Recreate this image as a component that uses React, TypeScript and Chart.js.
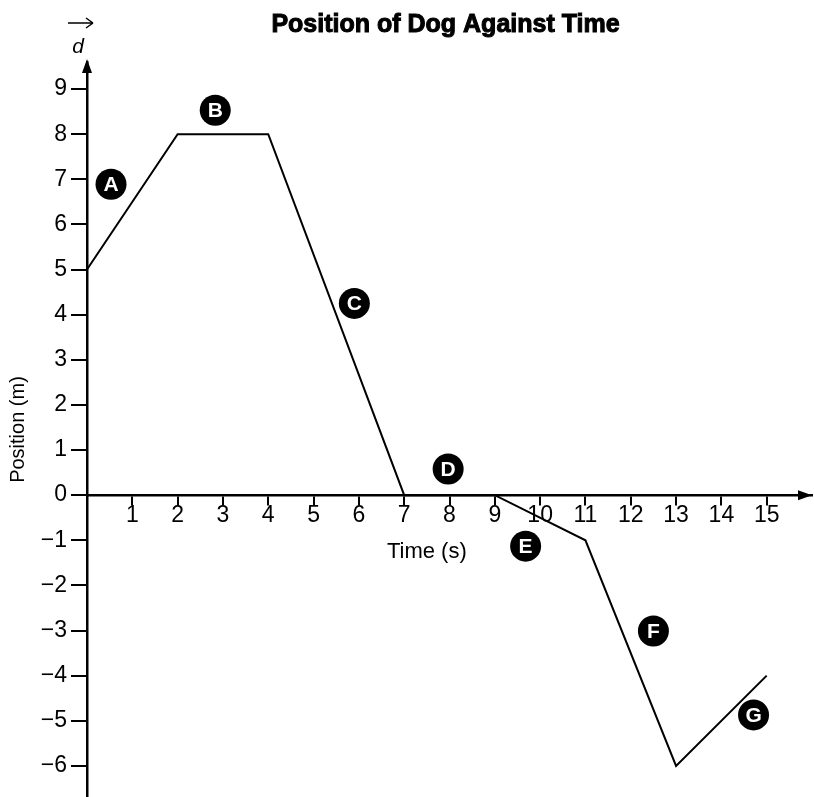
import React, { useEffect, useRef } from 'react';
import { Chart, registerables } from 'chart.js';

Chart.register(...registerables);

// ---- data ----
const timeSeconds = [0, 2, 4, 7, 9, 11, 13, 15];
const positionMetres = [5, 8, 8, 0, 0, -1, -6, -4];

const segmentLetters = ['A', 'B', 'C', 'D', 'E', 'F', 'G'];
const letterTimes = [0.53, 2.83, 5.9, 7.97, 9.68, 12.5, 14.71];
const letterPositions = [6.89, 8.53, 4.25, 0.58, -1.13, -3.01, -4.87];

const timeTicks = [1, 2, 3, 4, 5, 6, 7, 8, 9, 10, 11, 12, 13, 14, 15];
const positionTicks = [-6, -5, -4, -3, -2, -1, 0, 1, 2, 3, 4, 5, 6, 7, 8, 9];

const titleText = 'Position of Dog Against Time';
const xTitle = 'Time (s)';
const yTitle = 'Position (m)';
const vectorSymbol = 'd';

const xRange = [0, 16];
const yRange = [-6.69, 9.6];
const xTitleAt = [7.5, -1.26];

const FONT = '"Liberation Sans", Arial, sans-serif';
const NARROW = '"Liberation Sans Narrow", "Liberation Sans", Arial, sans-serif';

const decorPlugin = {
  id: 'decor',
  afterDatasetsDraw(chart: any) {
    const ctx = chart.ctx as CanvasRenderingContext2D;
    const { left, right, top } = chart.chartArea;
    const xs = chart.scales.x;
    const ys = chart.scales.y;
    ctx.save();

    // letters inside the circles
    const meta = chart.getDatasetMeta(1);
    ctx.fillStyle = '#fff';
    ctx.font = `bold 21px ${FONT}`;
    ctx.textAlign = 'center';
    ctx.textBaseline = 'middle';
    meta.data.forEach((pt: any, i: number) => {
      ctx.fillText(segmentLetters[i], pt.x, pt.y + 1);
    });

    // axis arrowheads
    ctx.fillStyle = '#000';
    const y0 = ys.getPixelForValue(0);
    ctx.beginPath();
    ctx.moveTo(right, y0);
    ctx.lineTo(right - 14, y0 - 5);
    ctx.lineTo(right - 14, y0 + 5);
    ctx.closePath();
    ctx.fill();
    ctx.beginPath();
    ctx.moveTo(left, top - 3);
    ctx.lineTo(left - 5, top + 11);
    ctx.lineTo(left + 5, top + 11);
    ctx.closePath();
    ctx.fill();

    // x-axis title
    ctx.font = `22px ${FONT}`;
    ctx.textAlign = 'center';
    ctx.textBaseline = 'middle';
    ctx.fillText(xTitle, xs.getPixelForValue(xTitleAt[0]), ys.getPixelForValue(xTitleAt[1]));

    // chart title
    ctx.font = `bold 25px ${FONT}`;
    ctx.textBaseline = 'alphabetic';
    ctx.lineWidth = 1;
    ctx.strokeStyle = '#000';
    const tx = (left + right) / 2 - 4;
    ctx.fillText(titleText, tx, 32);
    ctx.strokeText(titleText, tx, 32);

    // vector d symbol
    ctx.font = `italic 21px ${FONT}`;
    ctx.textBaseline = 'middle';
    ctx.fillText(vectorSymbol, left - 9, top - 15);
    ctx.lineWidth = 1.5;
    ctx.beginPath();
    ctx.moveTo(left - 19, top - 39);
    ctx.lineTo(left + 6, top - 39);
    ctx.moveTo(left + 6, top - 39);
    ctx.lineTo(left - 1, top - 44);
    ctx.moveTo(left + 6, top - 39);
    ctx.lineTo(left - 1, top - 34);
    ctx.stroke();

    ctx.restore();
  },
};

export default function App() {
  const ref = useRef<HTMLCanvasElement | null>(null);

  useEffect(() => {
    if (!ref.current) return;
    const chart = new Chart(ref.current, {
      type: 'scatter',
      data: {
        datasets: [
          {
            data: timeSeconds.map((t, i) => ({ x: t, y: positionMetres[i] })),
            showLine: true,
            borderColor: '#000',
            borderWidth: 2,
            pointRadius: 0,
            tension: 0,
            clip: false as any,
          },
          {
            data: letterTimes.map((t, i) => ({ x: t, y: letterPositions[i] })),
            pointRadius: 15.5,
            pointBackgroundColor: '#000',
            pointBorderWidth: 0,
            backgroundColor: '#000',
            borderColor: '#000',
            clip: false as any,
          },
        ],
      },
      options: {
        responsive: false,
        animation: false,
        events: [],
        layout: { autoPadding: false, padding: { top: 62, right: 2, bottom: 0, left: 0 } },
        plugins: {
          legend: { display: false },
          tooltip: { enabled: false },
          title: { display: false },
        },
        scales: {
          x: {
            type: 'linear',
            min: xRange[0],
            max: xRange[1],
            position: { y: 0 } as any,
            afterBuildTicks: (s: any) => {
              s.ticks = timeTicks.map((v) => ({ value: v }));
            },
            afterFit: (s: any) => {
              s.paddingLeft = 0;
              s.paddingRight = 0;
            },
            grid: {
              drawOnChartArea: false,
              drawTicks: true,
              tickLength: 9,
              color: '#000',
              lineWidth: 2,
            },
            border: { display: true, color: '#000', width: 2.5 },
            ticks: {
              color: '#000',
              font: { family: NARROW, size: 23, lineHeight: 1 },
              padding: 0,
              maxRotation: 0,
              autoSkip: false,
            },
          },
          y: {
            type: 'linear',
            position: 'left',
            min: yRange[0],
            max: yRange[1],
            afterBuildTicks: (s: any) => {
              s.ticks = positionTicks.map((v) => ({ value: v }));
            },
            afterFit: (s: any) => {
              s.width = 87;
              s.paddingTop = 0;
              s.paddingBottom = 0;
            },
            grid: {
              drawOnChartArea: false,
              drawTicks: true,
              tickLength: 16,
              color: '#000',
              lineWidth: 2,
            },
            border: { display: true, color: '#000', width: 2.5 },
            ticks: {
              color: '#000',
              font: { family: NARROW, size: 23 },
              padding: 4,
              autoSkip: false,
              callback: (v: any) => (v < 0 ? '\u2212' + Math.abs(v) : String(v)),
            },
            title: {
              display: true,
              text: yTitle,
              color: '#000',
              font: { family: FONT, size: 20 },
              padding: { top: 6, bottom: 0 },
            },
          },
        },
      },
      plugins: [decorPlugin],
    });
    return () => chart.destroy();
  }, []);

  return (
    <div style={{ position: 'absolute', left: 0, top: 0, width: 814, height: 797, background: '#fff' }}>
      <canvas ref={ref} width={814} height={797} />
    </div>
  );
}
